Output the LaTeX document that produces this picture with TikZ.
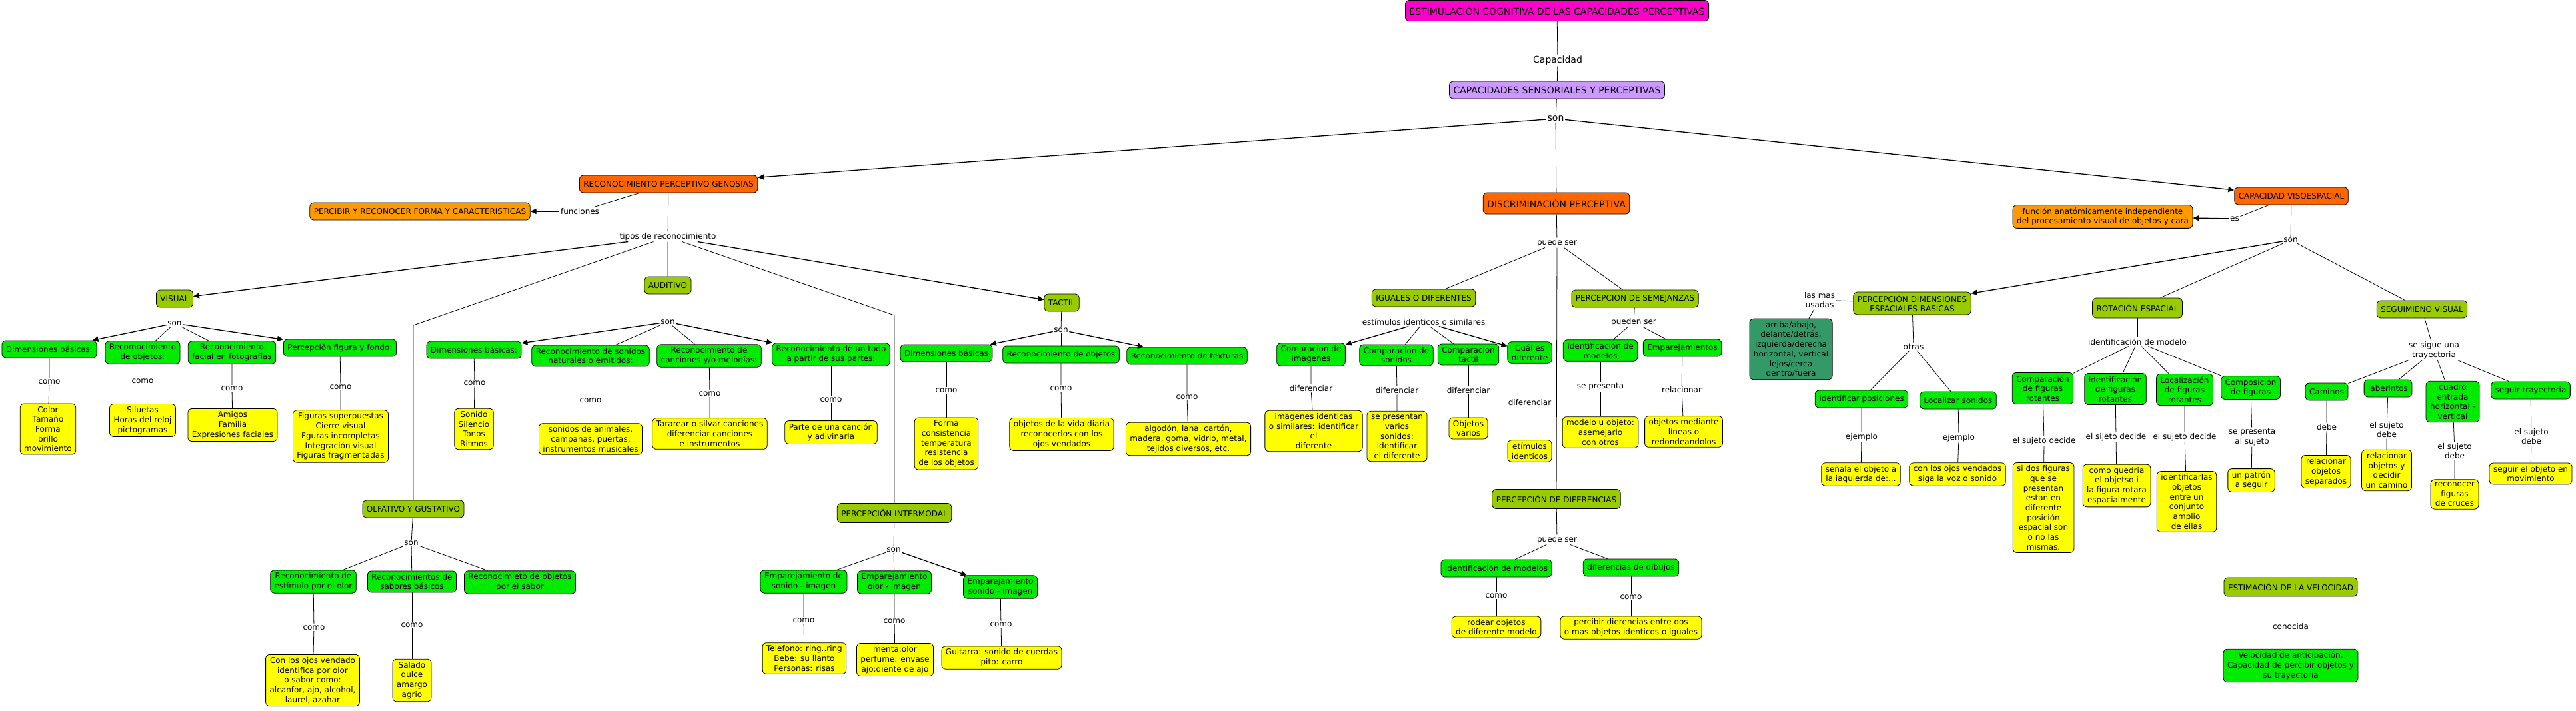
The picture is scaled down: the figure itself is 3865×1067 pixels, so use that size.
\documentclass[tikz,border=0pt]{standalone}
\usepackage{fontspec}
\setmainfont{DejaVu Sans}
\usepackage{tikz}
\usetikzlibrary{arrows.meta}
\definecolor{rosa}{RGB}{255,0,204}
\definecolor{lila}{RGB}{204,153,255}
\definecolor{rojizo}{RGB}{255,102,0}
\definecolor{naranja}{RGB}{255,153,0}
\definecolor{oliva}{RGB}{153,204,0}
\definecolor{verde}{RGB}{0,235,0}
\definecolor{amarillo}{RGB}{255,255,0}
\definecolor{verdeosc}{RGB}{51,153,102}
\newcommand{\fnorm}{\fontsize{12}{14.7}\selectfont}
\newcommand{\fgrande}{\fontsize{14}{17}\selectfont}

\begin{document}
\begin{tikzpicture}[x=1pt,y=-1pt,
caja/.style={draw,rounded corners=6pt,line width=0.8pt,align=center,inner xsep=6pt,inner ysep=4pt,minimum height=26pt,font=\fnorm},
rosabox/.style={caja,fill=rosa,font=\fgrande,minimum height=31pt},
lilabox/.style={caja,fill=lila,font=\fgrande},
rojobox/.style={caja,fill=rojizo},
naranjabox/.style={caja,fill=naranja},
olivabox/.style={caja,fill=oliva},
verdebox/.style={caja,fill=verde},
amabox/.style={caja,fill=amarillo},
oscbox/.style={caja,fill=verdeosc},
frase/.style={inner sep=1.5pt,align=center,font=\fnorm},
lin/.style={line width=0.8pt},
arr/.style={line width=1.3pt,-{Triangle[length=9pt,width=8pt]}}]
\fill[white](0,0)rectangle(3865,1067);
\useasboundingbox(0,0)rectangle(3865,1067);

%% cabecera
\node[rosabox](title)at(2336,16){ESTIMULACIÓN COGNITIVA DE LAS CAPACIDADES PERCEPTIVAS};
\node[frase,font=\fgrande](capacidad)at(2337,91){Capacidad};
\node[lilabox](sens)at(2336,135){CAPACIDADES SENSORIALES Y PERCEPTIVAS};
\node[frase,font=\fgrande](sonA)at(2334,178){son};
\node[rojobox](recon)at(1003,276){RECONOCIMIENTO PERCEPTIVO GENOSIAS};
\node[rojobox,font=\fgrande,minimum height=32pt](discr)at(2335,305){DISCRIMINACIÓN PERCEPTIVA};
\node[rojobox](visoesp)at(3438,294){CAPACIDAD VISOESPACIAL};
\draw[lin](title)--(capacidad)--(sens);
\draw[lin](sens)--(sonA)--(discr);
\draw[arr](sonA)--(recon);
\draw[arr](sonA)--(visoesp);

%% reconocimiento
\node[frase](funciones)at(870,317){funciones};
\node[naranjabox](percibir)at(630,317){PERCIBIR Y RECONOCER FORMA Y CARACTERISTICAS};
\node[frase](tipos)at(1002,355){tipos de reconocimiento};
\node[olivabox](visual)at(262,448){VISUAL};
\node[olivabox](auditivo)at(1002,428){AUDITIVO};
\node[olivabox](tactil)at(1593,454){TACTIL};
\node[olivabox](olf)at(620,764){OLFATIVO Y GUSTATIVO};
\node[olivabox,minimum height=29pt](intermodal)at(1342,770){PERCEPCIÓN INTERMODAL};
\coordinate(olfbend)at(620,488);
\coordinate(interbend)at(1342,473);
\draw[lin](recon)--(funciones);
\draw[arr](funciones)--(percibir);
\draw[lin](recon)--(tipos)--(auditivo);
\draw[arr](tipos)--(visual);
\draw[arr](tipos)--(tactil);
\draw[lin](tipos)--(olfbend)--(olf.north);
\draw[lin](tipos)--(interbend)--(intermodal.north);

%% visual
\node[frase](sonV)at(262,485){son};
\node[verdebox](vdim)at(74,524){Dimensiones básicas:};
\node[verdebox](vobj)at(214,529){Recomocimiento\\de objetos:};
\node[verdebox](vfac)at(348,529){Reconocimiento\\facial en fotografías};
\node[verdebox](vfig)at(510,522){Percepción figura y fondo:};
\node[frase](comoVa)at(74,573){como};
\node[frase](comoVb)at(214,572){como};
\node[frase](comoVc)at(348,583){como};
\node[frase](comoVd)at(511,581){como};
\node[amabox](vdimex)at(72,644){Color\\Tamaño\\Forma\\brillo\\movimiento};
\node[amabox](vobjex)at(214,631){Siluetas\\Horas del reloj\\pictogramas};
\node[amabox](vfacex)at(349,638){Amigos\\Familia\\Expresiones faciales};
\node[amabox](vfigex)at(511,655){Figuras superpuestas\\Cierre visual\\Fguras incompletas\\Integración visual\\Figuras fragmentadas};
\draw[lin](visual)--(sonV);
\draw[arr](sonV)--(vdim);
\draw[lin](sonV)--(vobj);
\draw[lin](sonV)--(vfac);
\draw[arr](sonV)--(vfig);
\draw[lin](vdim)--(comoVa)--(vdimex);
\draw[lin](vobj)--(comoVb)--(vobjex);
\draw[lin](vfac)--(comoVc)--(vfacex);
\draw[lin](vfig)--(comoVd)--(vfigex);

%% auditivo
\node[frase](sonAu)at(1002,483){son};
\node[verdebox](adim)at(711,525){Dimensiones básicas:};
\node[verdebox](ason)at(886,534){Reconocimiento de sonidos\\naturales o emitidos:};
\node[verdebox](acan)at(1064,534){Reconocimiento de\\canciones y/o melodías:};
\node[verdebox](atodo)at(1247,532){Reconocimiento de un todo\\a partir de sus partes:};
\node[frase](comoAa)at(712,575){como};
\node[frase](comoAb)at(886,601){como};
\node[frase](comoAc)at(1065,591){como};
\node[frase](comoAd)at(1247,600){como};
\node[amabox](adimex)at(711,644){Sonido\\Silencio\\Tonos\\Ritmos};
\node[amabox](asonex)at(886,659){sonidos de animales,\\campanas, puertas,\\instrumentos musicales};
\node[amabox](acanex)at(1065,651){Tararear o silvar canciones\\diferenciar canciones\\e instrumentos};
\node[amabox](atodoex)at(1247,649){Parte de una canción\\y adivinarla};
\draw[lin](auditivo)--(sonAu);
\draw[arr](sonAu)--(adim);
\draw[lin](sonAu)--(ason);
\draw[lin](sonAu)--(acan);
\draw[arr](sonAu)--(atodo);
\draw[lin](adim)--(comoAa)--(adimex);
\draw[lin](ason)--(comoAb)--(asonex);
\draw[lin](acan)--(comoAc)--(acanex);
\draw[lin](atodo)--(comoAd)--(atodoex);

%% tactil
\node[frase](sonT)at(1592,495){son};
\node[verdebox](tdim)at(1420,530){Dimensiones básicas};
\node[verdebox](tobj)at(1592,532){Reconocimiento de objetos};
\node[verdebox](ttex)at(1781,534){Reconocimiento de texturas};
\node[frase](comoTa)at(1420,586){como};
\node[frase](comoTb)at(1592,583){como};
\node[frase](comoTc)at(1781,596){como};
\node[amabox](tdimex)at(1420,666){Forma\\consistencia\\temperatura\\resistencia\\de los objetos};
\node[amabox](tobjex)at(1593,652){objetos de la vida diaria\\reconocerlos con los\\ojos vendados};
\node[amabox](ttexex)at(1783,659){algodón, lana, cartón,\\madera, goma, vidrio, metal,\\tejidos diversos, etc.};
\draw[lin](tactil)--(sonT);
\draw[arr](sonT)--(tdim);
\draw[lin](sonT)--(tobj);
\draw[arr](sonT)--(ttex);
\draw[lin](tdim)--(comoTa)--(tdimex);
\draw[lin](tobj)--(comoTb)--(tobjex);
\draw[lin](ttex)--(comoTc)--(ttexex);

%% olfativo
\node[frase](sonO)at(617,815){son};
\node[verdebox](oolor)at(470,873){Reconocimiento de\\estímulo por el olor};
\node[verdebox](osab)at(618,873){Reconocimientos de\\sabores básicos};
\node[verdebox](oobj)at(780,874){Reconocimieto de objetos\\por el sabor};
\node[frase](comoOa)at(471,942){como};
\node[frase](comoOb)at(618,938){como};
\node[amabox](oolorex)at(469,1021){Con los ojos vendado\\identifica por olor\\o sabor como:\\alcanfor, ajo, alcohol,\\laurel, azahar};
\node[amabox](osabex)at(618,1021){Salado\\dulce\\amargo\\agrio};
\draw[lin](olf)--(sonO);
\draw[lin](sonO)--(oolor);
\draw[lin](sonO)--(osab);
\draw[lin](sonO)--(oobj);
\draw[lin](oolor)--(comoOa)--(oolorex);
\draw[lin](osab)--(comoOb)--(osabex);

%% intermodal
\node[frase](sonI)at(1341,825){son};
\node[verdebox](iema)at(1206,873){Emparejamiento de\\sonido - imagen};
\node[verdebox](iemb)at(1342,874){Emparejamiento\\olor - imagen};
\node[verdebox](iemc)at(1501,881){Emparejamiento\\sonido - imagen};
\node[frase](comoIa)at(1206,931){como};
\node[frase](comoIb)at(1342,932){como};
\node[frase](comoIc)at(1502,937){como};
\node[amabox](iemaex)at(1207,988){Telefono: ring..ring\\Bebe: su llanto\\Personas: risas};
\node[amabox](iembex)at(1343,990){menta:olor\\perfume: envase\\ajo:diente de ajo};
\node[amabox](iemcex)at(1503,987){Guitarra: sonido de cuerdas\\pito: carro};
\draw[lin](intermodal)--(sonI);
\draw[lin](sonI)--(iema);
\draw[lin](sonI)--(iemb);
\draw[arr](sonI)--(iemc);
\draw[lin](iema)--(comoIa)--(iemaex);
\draw[lin](iemb)--(comoIb)--(iembex);
\draw[lin](iemc)--(comoIc)--(iemcex);

%% discriminacion
\node[frase](puedeD)at(2336,364){puede ser};
\node[olivabox](iguales)at(2136,447){IGUALES O DIFERENTES};
\node[olivabox](semej)at(2453,448){PERCEPCION DE SEMEJANZAS};
\node[frase](estim)at(2136,483){estímulos identicos o similares};
\node[frase](pueden)at(2451,483){pueden ser};
\node[verdebox](dimg)at(1967,532){Comaracion de\\imagenes};
\node[verdebox](dson)at(2095,533){Comparacion de\\sonidos};
\node[verdebox](dtac)at(2203,532){Comparacion\\tactil};
\node[verdebox](dcual)at(2295,529){Cuál es\\diferente};
\node[verdebox](smod)at(2401,526){Identificación de\\modelos};
\node[verdebox](semp)at(2524,522){Emparejamientos};
\node[frase](difa)at(1967,583){diferenciar};
\node[frase](difb)at(2096,586){diferenciar};
\node[frase](difc)at(2203,586){diferenciar};
\node[frase](difd)at(2295,604){diferenciar};
\node[frase](sepres)at(2401,581){se presenta};
\node[frase](relac)at(2523,585){relacionar};
\node[amabox](dimgex)at(1971,647){imagenes identicas\\o similares: identificar\\el\\diferente};
\node[amabox](dsonex)at(2096,655){se presentan\\varios\\sonidos:\\identificar\\el diferente};
\node[amabox](dtacex)at(2203,643){Objetos\\varios};
\node[amabox](dcualex)at(2295,677){etímulos\\identicos};
\node[amabox](smodex)at(2401,649){modelo u objeto:\\asemejarlo\\con otros};
\node[amabox](sempex)at(2526,648){objetos mediante\\líneas o\\redondeandolos};
\node[olivabox,minimum height=29pt](pdif)at(2335,749){PERCEPCIÓN DE DIFERENCIAS};
\node[frase](puedeF)at(2336,810){puede ser};
\node[verdebox](fmod)at(2245,853){Identificación de modelos};
\node[verdebox](fdib)at(2447,852){diferencias de dibujos};
\node[frase](comoFa)at(2245,894){como};
\node[frase](comoFb)at(2447,896){como};
\node[amabox](fmodex)at(2245,941){rodear objetos\\de diferente modelo};
\node[amabox](fdibex)at(2447,942){percibir dierencias entre dos\\o mas objetos identicos o iguales};
\draw[lin](discr)--(puedeD)--(pdif);
\draw[lin](puedeD)--(iguales);
\draw[lin](puedeD)--(semej);
\draw[lin](iguales)--(estim);
\draw[arr](estim)--(dimg);
\draw[lin](estim)--(dson);
\draw[lin](estim)--(dtac);
\draw[arr](estim)--(dcual);
\draw[lin](semej)--(pueden);
\draw[lin](pueden)--(smod);
\draw[lin](pueden)--(semp);
\draw[lin](dimg)--(difa)--(dimgex);
\draw[lin](dson)--(difb)--(dsonex);
\draw[lin](dtac)--(difc)--(dtacex);
\draw[lin](dcual)--(difd)--(dcualex);
\draw[lin](smod)--(sepres)--(smodex);
\draw[lin](semp)--(relac)--(sempex);
\draw[lin](pdif)--(puedeF);
\draw[lin](puedeF)--(fmod);
\draw[lin](puedeF)--(fdib);
\draw[lin](fmod)--(comoFa)--(fmodex);
\draw[lin](fdib)--(comoFb)--(fdibex);

%% visoespacial
\node[frase](es)at(3353,328){es};
\node[naranjabox](funcion)at(3155,325){función anatómicamente independiente\\del procesamiento visual de objetos y cara};
\node[frase](sonVE)at(3437,360){son};
\node[olivabox](pdim)at(2869,455){PERCEPCIÓN DIMENSIONES\\ESPACIALES BASICAS};
\node[frase](masusadas)at(2730,450){las mas\\usadas};
\node[oscbox](arriba)at(2687,524){arriba/abajo,\\delante/detrás,\\izquierda/derecha\\horizontal, vertical\\lejos/cerca\\dentro/fuera};
\node[frase](otras)at(2871,520){otras};
\node[verdebox](ipos)at(2793,599){Identificar posiciones};
\node[verdebox](lson)at(2938,601){Localizar sonidos};
\node[frase](ejema)at(2793,656){ejemplo};
\node[frase](ejemb)at(2939,657){ejemplo};
\node[amabox](iposex)at(2792,712){señala el objeto a\\la iaquierda de:...};
\node[amabox](lsonex)at(2937,712){con los ojos vendados\\siga la voz o sonido};
\draw[lin](visoesp)--(es);
\draw[arr](es)--(funcion);
\draw[lin](visoesp)--(sonVE);
\draw[arr](sonVE)--(pdim);
\draw[lin](pdim)--(masusadas)--(arriba);
\draw[lin](pdim)--(otras);
\draw[lin](otras)--(ipos);
\draw[lin](otras)--(lson);
\draw[lin](ipos)--(ejema)--(iposex);
\draw[lin](lson)--(ejemb)--(lsonex);
%% rotacion
\node[olivabox,minimum height=30pt](rot)at(3207,462){ROTACIÓN ESPACIAL};
\node[frase](idmod)at(3207,513){identificación de modelo};
\node[verdebox](rcomp)at(3065,583){Comparación\\de figuras\\rotantes};
\node[verdebox](rident)at(3174,584){Identificación\\de figuras\\rotantes};
\node[verdebox](rloc)at(3278,585){Localización\\de figuras\\rotantes};
\node[verdebox](rcompo)at(3377,582){Composición\\de figuras};
\node[frase](decida)at(3067,662){el sujeto decide};
\node[frase](decidb)at(3175,656){el sijeto decide};
\node[frase](decidc)at(3278,656){el sujeto decide};
\node[frase](presal)at(3379,656){se presenta\\al sujeto};
\node[amabox](rcompex)at(3066,762){si dos figuras\\que se\\presentan\\estan en\\diferente\\posición\\espacial son\\o no las\\mismas.};
\node[amabox](ridentex)at(3176,729){como quedria\\el objetso i\\la figura rotara\\espacialmente};
\node[amabox](rlocex)at(3281,753){identificarlas\\objetos\\entre un\\conjunto\\amplio\\de ellas};
\node[amabox](rcompoex)at(3378,721){un patrón\\a seguir};
\draw[lin](sonVE)--(rot);
\draw[lin](rot)--(idmod);
\draw[lin](idmod)--(rcomp);
\draw[lin](idmod)--(rident);
\draw[lin](idmod)--(rloc);
\draw[lin](idmod)--(rcompo);
\draw[lin](rcomp)--(decida)--(rcompex);
\draw[lin](rident)--(decidb)--(ridentex);
\draw[lin](rloc)--(decidc)--(rlocex);
\draw[lin](rcompo)--(presal)--(rcompoex);
%% seguimiento
\node[olivabox](seg)at(3634,464){SEGUIMIENO VISUAL};
\node[frase](trayec)at(3652,526){se sigue una\\trayectoria};
\node[verdebox](scam)at(3491,588){Caminos};
\node[verdebox](slab)at(3583,583){laberintos};
\node[verdebox](scua)at(3680,603){cuadro\\entrada\\horizontal -\\vertical};
\node[verdebox](sseg)at(3797,586){seguir trayectoria};
\node[frase](debea)at(3491,641){debe};
\node[frase](debeb)at(3581,645){el sujeto\\debe};
\node[frase](debec)at(3683,677){el sujeto\\debe};
\node[frase](debed)at(3798,655){el sujeto\\debe};
\node[amabox](scamex)at(3490,708){relacionar\\objetos\\separados};
\node[amabox](slabex)at(3581,706){relacionar\\objetos y\\decidir\\un camino};
\node[amabox](scuaex)at(3683,742){reconocer\\figuras\\de cruces};
\node[amabox](ssegex)at(3797,711){seguir el objeto en\\movimiento};
\draw[lin](sonVE)--(seg);
\draw[lin](seg)--(trayec);
\draw[lin](trayec)--(scam);
\draw[lin](trayec)--(slab);
\draw[lin](trayec)--(scua);
\draw[lin](trayec)--(sseg);
\draw[lin](scam)--(debea)--(scamex);
\draw[lin](slab)--(debeb)--(slabex);
\draw[lin](scua)--(debec)--(scuaex);
\draw[lin](sseg)--(debed)--(ssegex);
%% velocidad
\node[olivabox,minimum height=28pt](velo)at(3437,881){ESTIMACIÓN DE LA VELOCIDAD};
\node[frase](conocida)at(3437,940){conocida};
\node[verdebox](veloex)at(3437,999){Velocidad de anticipación.\\Capacidad de percibir objetos y\\su trayectoria};
\draw[lin](sonVE)--(velo);
\draw[lin](velo)--(conocida)--(veloex);
\end{tikzpicture}
\end{document}
